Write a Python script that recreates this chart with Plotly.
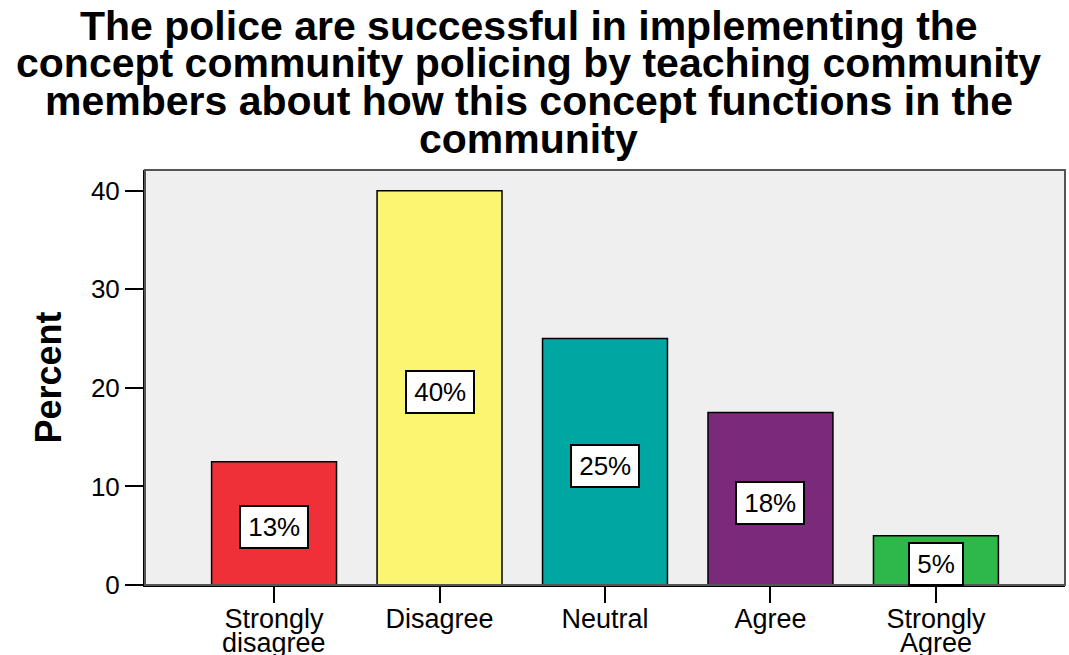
import plotly.graph_objects as go

# Survey responses (percent of respondents)
categories = ["Strongly disagree", "Disagree", "Neutral", "Agree", "Strongly Agree"]
percent = [12.5, 40.0, 25.0, 17.5, 5.0]
bar_colors = ["#ef3038", "#fbf672", "#00a6a2", "#7b2a7b", "#2eb84a"]
tick_first_line = ["Strongly", "Disagree", "Neutral", "Agree", "Strongly"]
tick_second_line = ["disagree", "", "", "", "Agree"]
title_lines = [
    "The police are successful in implementing the",
    "concept community policing by teaching community",
    "members about how this concept functions in the",
    "community",
]
y_ticks = [0, 10, 20, 30, 40]

W, H = 1069, 655
ML, MR, MT, MB = 145, 4, 170, 70
plot_h = H - MT - MB
plot_w = W - ML - MR


def paper_y(px):
    """Convert a pixel row to paper y-coordinate."""
    return (H - MB - px) / plot_h


def paper_x(px):
    return (px - ML) / plot_w


FONT = "Liberation Sans, Arial, sans-serif"

fig = go.Figure(
    go.Bar(
        x=categories,
        y=percent,
        marker=dict(color=bar_colors, line=dict(color="black", width=1.5)),
        width=0.755,
        hoverinfo="x+y",
    )
)

annotations = []

# Value boxes in the middle of each bar (percent rounded half up)
for cat, val in zip(categories, percent):
    annotations.append(
        dict(
            x=cat, y=val / 2, xref="x", yref="y", yshift=-4,
            text=f"\u200a{int(val + 0.5)}%\u200a",
            showarrow=False,
            font=dict(family=FONT, size=26, color="black"),
            bgcolor="white", bordercolor="black", borderwidth=2, borderpad=5,
            xanchor="center", yanchor="middle",
        )
    )

# Second line of the category labels
for cat, txt in zip(categories, tick_second_line):
    if txt:
        annotations.append(
            dict(
                x=cat, y=paper_y(643), xref="x", yref="paper",
                text=txt, showarrow=False,
                font=dict(family=FONT, size=27, color="black"),
                xanchor="center", yanchor="middle",
            )
        )

# Title lines, tightly spaced
baselines = [40, 77, 115, 153]
for line, base in zip(title_lines, baselines):
    annotations.append(
        dict(
            x=paper_x(528.5), y=paper_y(base - 14), xref="paper", yref="paper",
            text=f"<b>{line}</b>", showarrow=False,
            font=dict(family=FONT, size=41, color="black"),
            xanchor="center", yanchor="middle",
        )
    )

# Y-axis label
annotations.append(
    dict(
        x=paper_x(48), y=0.5, xref="paper", yref="paper",
        text="<b>Percent</b>", showarrow=False, textangle=-90,
        font=dict(family=FONT, size=36, color="black"),
        xanchor="center", yanchor="middle",
    )
)

fig.update_layout(
    width=W, height=H,
    margin=dict(l=ML, r=MR, t=MT, b=MB),
    paper_bgcolor="white",
    plot_bgcolor="#efefef",
    showlegend=False,
    annotations=annotations,
    shapes=[
        dict(type="rect", xref="paper", yref="paper", x0=0, y0=0, x1=1, y1=1,
             line=dict(color="#555555", width=2), layer="above"),
    ],
    xaxis=dict(
        range=[-0.78, 4.78],
        tickvals=categories, ticktext=tick_first_line,
        ticks="outside", ticklen=16, tickwidth=2, tickcolor="black",
        ticklabelstandoff=-7,
        showline=True, linecolor="black", linewidth=2,
        showgrid=False, zeroline=False,
        tickfont=dict(family=FONT, size=27, color="black"),
    ),
    yaxis=dict(
        range=[0, 42.1],
        tickvals=y_ticks,
        ticks="outside", ticklen=18, tickwidth=2, tickcolor="black",
        showline=True, linecolor="black", linewidth=2,
        showgrid=False, zeroline=False,
        tickfont=dict(family=FONT, size=26, color="black"),
    ),
)

fig.write_html("out.html")
